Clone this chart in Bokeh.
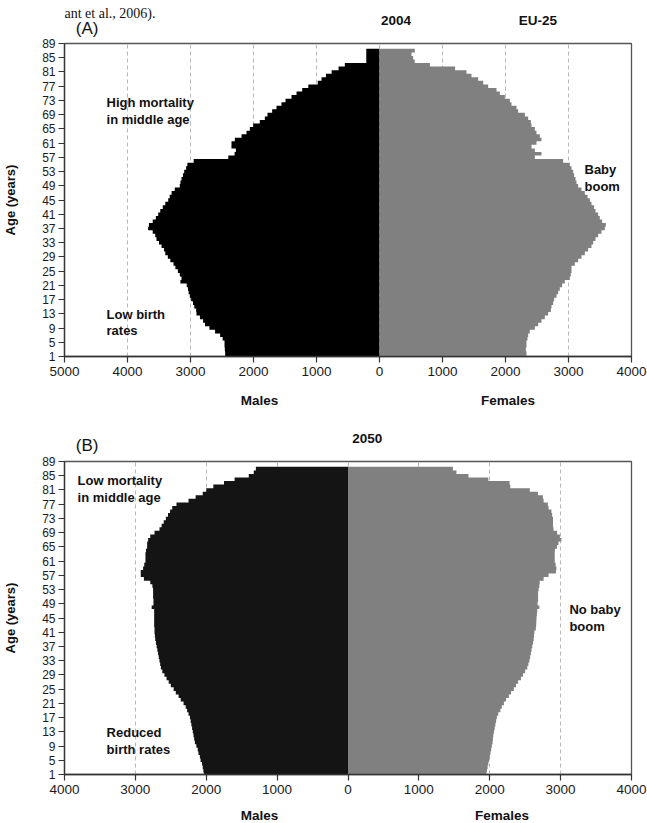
from bokeh.plotting import figure
from bokeh.models import Range1d, FixedTicker, Label
from bokeh.layouts import column
from bokeh.embed import file_html
from bokeh.resources import INLINE

# ---------------- data (thousands of persons, by single year of age) ----------------
ages = list(range(1, 88))

males_2004 = [
    2450, 2450, 2455, 2460, 2460, 2490, 2530, 2610, 2700, 2770,   # 1-10
    2800, 2850, 2905, 2910, 2940, 2960, 2990, 3011, 3030, 3040,   # 11-20
    3060, 3160, 3143, 3170, 3200, 3240, 3270, 3320, 3360, 3400,   # 21-30
    3420, 3460, 3500, 3540, 3560, 3600, 3672, 3660, 3600, 3550,   # 31-40
    3513, 3480, 3440, 3400, 3354, 3330, 3300, 3250, 3170, 3160,   # 41-50
    3143, 3120, 3100, 3070, 3050, 2950, 2400, 2300, 2280, 2350,   # 51-60
    2349, 2296, 2190, 2111, 2058, 2005, 1900, 1820, 1778, 1704,   # 61-70
    1635, 1556, 1492, 1397, 1317, 1227, 1130, 980, 920, 850,      # 71-80
    760, 650, 550, 210, 210, 210, 210,                            # 81-87
]
females_2004 = [
    2333, 2333, 2323, 2333, 2333, 2349, 2360, 2386, 2466, 2519,
    2571, 2624, 2677, 2720, 2730, 2757, 2772, 2810, 2836, 2862,
    2899, 2942, 3021, 3037, 3048, 3048, 3100, 3153, 3206, 3259,
    3312, 3365, 3392, 3429, 3471, 3524, 3577, 3593, 3534, 3497,
    3471, 3429, 3407, 3365, 3339, 3302, 3259, 3206, 3153, 3127,
    3111, 3090, 3074, 3048, 3021, 2915, 2466, 2571, 2466, 2413,
    2492, 2571, 2545, 2492, 2466, 2413, 2402, 2360, 2307, 2201,
    2175, 2095, 2069, 1990, 1910, 1857, 1725, 1646, 1566, 1460,
    1381, 1200, 800, 560, 534, 508, 561,
]
males_2050 = [
    2030, 2040, 2050, 2060, 2080, 2090, 2110, 2120, 2140, 2160,
    2170, 2180, 2190, 2200, 2210, 2220, 2230, 2250, 2270, 2290,
    2320, 2360, 2390, 2430, 2460, 2500, 2530, 2560, 2590, 2620,
    2640, 2650, 2660, 2670, 2680, 2690, 2700, 2710, 2720, 2725,
    2730, 2730, 2735, 2735, 2735, 2735, 2735, 2770, 2745, 2745,
    2750, 2750, 2750, 2760, 2790, 2880, 2924, 2924, 2891, 2875,
    2858, 2858, 2858, 2850, 2834, 2834, 2820, 2790, 2730, 2660,
    2630, 2600, 2570, 2540, 2510, 2480, 2420, 2250, 2150, 2050,
    2000, 1900, 1750, 1600, 1400, 1330, 1300,
]
females_2050 = [
    1950, 1960, 1970, 1980, 1990, 2000, 2010, 2020, 2030, 2040,
    2045, 2050, 2060, 2070, 2080, 2090, 2100, 2120, 2150, 2170,
    2200, 2230, 2270, 2300, 2340, 2370, 2400, 2440, 2470, 2500,
    2530, 2545, 2560, 2570, 2580, 2590, 2600, 2610, 2620, 2625,
    2630, 2650, 2655, 2658, 2660, 2665, 2670, 2700, 2675, 2682,
    2682, 2682, 2690, 2700, 2705, 2760, 2830, 2935, 2940, 2930,
    2917, 2917, 2917, 2920, 2950, 2970, 3011, 2990, 2950, 2900,
    2893, 2893, 2893, 2880, 2870, 2830, 2820, 2760, 2750, 2680,
    2565, 2290, 2280, 1980, 1700, 1530, 1480,
]

x_ticks_2004 = [-5000, -4000, -3000, -2000, -1000, 0, 1000, 2000, 3000, 4000]
x_labels_2004 = ["5000", "4000", "3000", "2000", "1000", "0", "1000", "2000", "3000", "4000"]
x_ticks_2050 = [-4000, -3000, -2000, -1000, 0, 1000, 2000, 3000, 4000]
x_labels_2050 = ["4000", "3000", "2000", "1000", "0", "1000", "2000", "3000", "4000"]
y_ticks = list(range(1, 90, 4))

FONT = "Liberation Sans"
TXT = "#111111"
W, H_A, H_B = 647, 415, 408


def lab(p, x, y, text, size="13px", bold=True, align="left", font=FONT, baseline="middle"):
    p.add_layout(Label(x=x, y=y, text=text, text_font=font, text_font_size=size,
                       text_font_style="bold" if bold else "normal", text_color=TXT,
                       text_align=align, text_baseline=baseline))


def step_outline(values, sign):
    """Stair outline of one-year bars: each age covers [age-0.5, age+0.5]."""
    ys, xs = [], []
    for a, v in zip(ages, values):
        ys += [a - 0.5, a + 0.5]
        xs += [sign * v, sign * v]
    return ys, xs


def make_panel(xmin, xmax, ticks, labels, males, females, male_color, height, top, bottom):
    p = figure(frame_width=567, frame_height=313, width=W, height=height,
               x_range=Range1d(xmin, xmax), y_range=Range1d(1, 89),
               output_backend="svg", toolbar_location=None,
               min_border_left=63, min_border_right=17,
               min_border_top=top, min_border_bottom=bottom)
    ym, xm = step_outline(males, -1)
    p.harea(y=ym, x1=[0] * len(ym), x2=xm, fill_color=male_color)
    yf, xf = step_outline(females, 1)
    p.harea(y=yf, x1=[0] * len(yf), x2=xf, fill_color="#808080")

    p.xaxis.ticker = FixedTicker(ticks=ticks)
    p.xaxis.major_label_overrides = {t: l for t, l in zip(ticks, labels)}
    p.yaxis.ticker = FixedTicker(ticks=y_ticks)
    for ax in (p.xaxis, p.yaxis):
        ax.minor_tick_line_color = None
        ax.major_tick_in = 0
        ax.major_tick_out = 6
        ax.axis_line_color = "#333333"
        ax.axis_line_width = 1.3
        ax.major_tick_line_color = "#333333"
        ax.major_tick_line_width = 1.2
        ax.major_label_text_font = FONT
        ax.major_label_text_color = "#1a1a1a"
    p.xaxis.major_label_text_font_size = "13.5px"
    p.xaxis.major_label_standoff = 4
    p.yaxis.major_label_text_font_size = "12px"
    p.yaxis.major_label_standoff = 3
    p.yaxis.axis_label = "Age (years)"
    p.yaxis.axis_label_text_font = FONT
    p.yaxis.axis_label_text_font_style = "bold"
    p.yaxis.axis_label_text_font_size = "13px"
    p.yaxis.axis_label_text_color = TXT
    p.yaxis.axis_label_standoff = 21

    p.ygrid.grid_line_color = None
    p.xgrid.ticker = FixedTicker(ticks=ticks)
    p.xgrid.grid_line_color = "#b8b8b8"
    p.xgrid.grid_line_dash = "4 3"
    p.xgrid.grid_line_width = 1

    p.outline_line_color = "#555555"
    p.outline_line_width = 1.3
    p.background_fill_color = "white"
    p.border_fill_color = "white"
    return p


# ---------------- panel A: 2004 ----------------
pa = make_panel(-5000, 4000, x_ticks_2004, x_labels_2004, males_2004, females_2004,
                "#000000", H_A, 43, 59)
lab(pa, -4333, 72.4, "High mortality")
lab(pa, -4333, 67.6, "in middle age")
lab(pa, -4333, 12.8, "Low birth")
lab(pa, -4333, 8.3, "rates")
lab(pa, 3254, 53.6, "Baby")
lab(pa, 3254, 48.8, "boom")

# ---------------- panel B: 2050 ----------------
pb = make_panel(-4000, 4000, x_ticks_2050, x_labels_2050, males_2050, females_2050,
                "#141414", H_B, 46, 49)
lab(pb, -3815, 83.7, "Low mortality")
lab(pb, -3815, 78.9, "in middle age")
lab(pb, -3406, 12.8, "Reduced")
lab(pb, -3406, 8.0, "birth rates")
lab(pb, 3124, 47.4, "No baby")
lab(pb, 3124, 42.6, "boom")

# ---------------- transparent overlay for the texts outside the plot frames ----------------
H_ALL = H_A + H_B
ov = figure(width=W, height=H_ALL, x_range=Range1d(0, W), y_range=Range1d(H_ALL, 0),
            x_axis_type=None, y_axis_type=None, min_border=0,
            output_backend="svg", toolbar_location=None, margin=(-H_ALL, 0, 0, 0))
ov.outline_line_color = None
ov.background_fill_alpha = 0
ov.border_fill_alpha = 0
ov.grid.visible = False

lab(ov, 0, 13, "ant et al., 2006).", size="14px", bold=False,
    font="Liberation Serif", baseline="alphabetic")
lab(ov, 13, 28, "(A)", size="17px", bold=False)
lab(ov, 379, 20, "2004", size="13.5px", align="center")
lab(ov, 541, 20, "EU-25", size="13.5px", align="center")
lab(ov, 223, 400, "Males", size="13.5px", align="center")
lab(ov, 507, 400, "Females", size="13.5px", align="center")

lab(ov, 13, 445, "(B)", size="17px", bold=False)
lab(ov, 346, 438, "2050", size="13.5px", align="center")
lab(ov, 223, 815, "Males", size="13.5px", align="center")
lab(ov, 500, 815, "Females", size="13.5px", align="center")

layout = column(pa, pb, ov, spacing=0)
open("out.html", "w").write(file_html(layout, INLINE))
